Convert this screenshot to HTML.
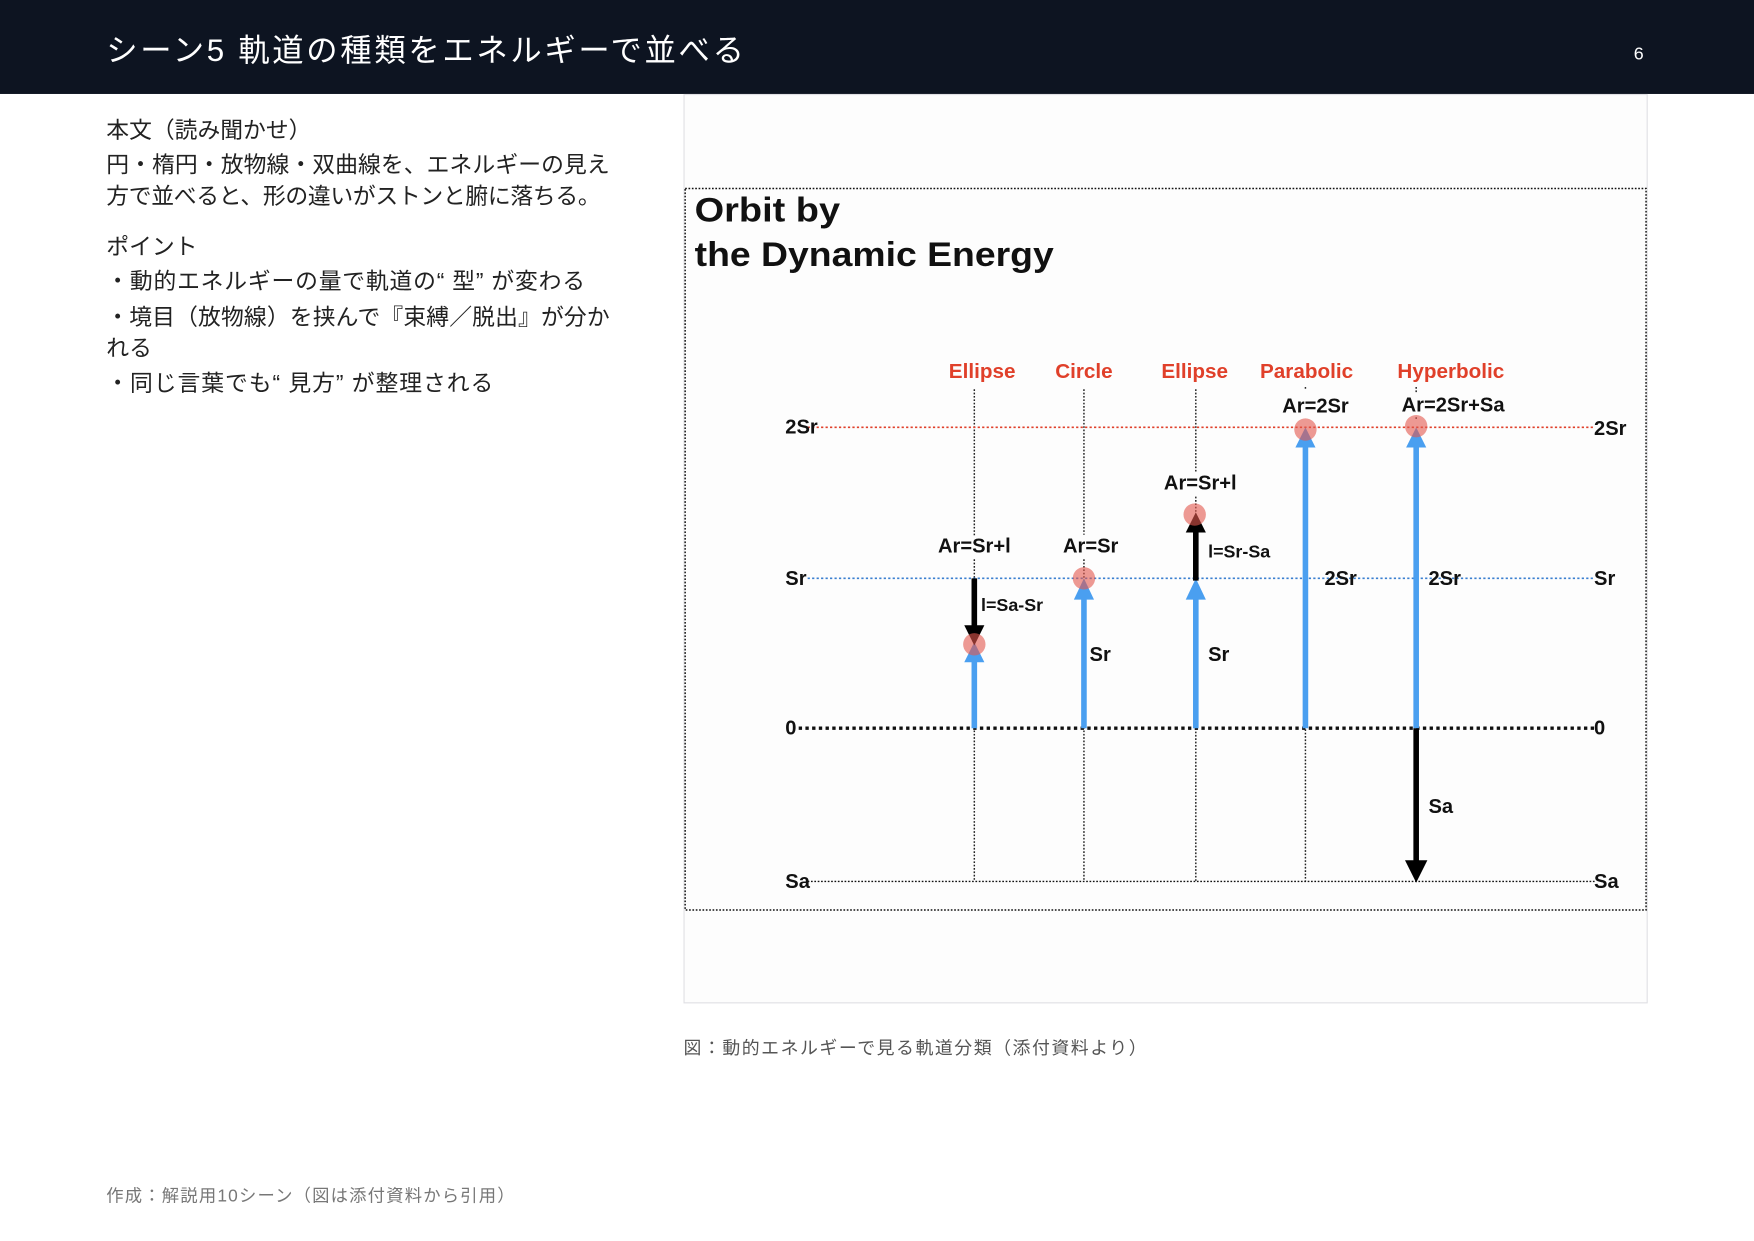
<!DOCTYPE html>
<html><head><meta charset="utf-8"><style>
html,body{margin:0;padding:0;background:#fff;}
svg{display:block;}
.jp{font-family:"Liberation Sans","Noto Sans CJK JP",sans-serif;}
.d{font-family:"Liberation Sans","DejaVu Sans",sans-serif;}
</style></head><body>
<svg width="1754" height="1241" viewBox="0 0 1568 1109.4" xmlns="http://www.w3.org/2000/svg">
<rect x="0" y="0" width="1568" height="1109.4" fill="#fff"/>
<rect x="0" y="0" width="1568" height="84" fill="#0d1421"/>
<text class="jp" x="95" y="47" font-size="28" fill="#fff" dominant-baseline="middle" textLength="570" lengthAdjust="spacing">シーン5  軌道の種類をエネルギーで並べる</text>
<text class="jp" x="1465" y="49" font-size="16" fill="#fff" text-anchor="middle" dominant-baseline="middle">6</text>

<g class="jp" font-size="20.4" fill="#222" dominant-baseline="middle">
<text x="95" y="118">本文（読み聞かせ）</text>
<text x="95" y="149" textLength="450" lengthAdjust="spacing">円・楕円・放物線・双曲線を、エネルギーの見え</text>
<text x="95" y="177" textLength="442" lengthAdjust="spacing">方で並べると、形の違いがストンと腑に落ちる。</text>
<text x="95" y="222">ポイント</text>
<text x="95" y="253" textLength="428" lengthAdjust="spacing">・動的エネルギーの量で軌道の“ 型” が変わる</text>
<text x="95" y="285" textLength="450" lengthAdjust="spacing">・境目（放物線）を挟んで『束縛／脱出』が分か</text>
<text x="95" y="313">れる</text>
<text x="95" y="344" textLength="346" lengthAdjust="spacing">・同じ言葉でも“ 見方” が整理される</text>
</g>
<text class="jp" x="611" y="938" font-size="16" fill="#555" dominant-baseline="middle" textLength="414" lengthAdjust="spacing">図：動的エネルギーで見る軌道分類（添付資料より）</text>
<text class="jp" x="95" y="1070" font-size="15.5" fill="#777" dominant-baseline="middle" textLength="365" lengthAdjust="spacing">作成：解説用10シーン（図は添付資料から引用）</text>

<rect x="611.5" y="84.5" width="861" height="812" fill="#fdfdfd" stroke="#e0e0e4" stroke-width="1"/>
<rect x="612.5" y="168.5" width="859" height="645" fill="#fdfdfd" stroke="#111" stroke-width="1.3" stroke-dasharray="1.5,1.5"/>
<text class="d" x="621" y="198" font-size="31" font-weight="bold" fill="#111" textLength="130" lengthAdjust="spacingAndGlyphs">Orbit by</text>
<text class="d" x="621" y="238" font-size="31" font-weight="bold" fill="#111" textLength="321" lengthAdjust="spacingAndGlyphs">the Dynamic Energy</text>

<g class="d" font-size="18.5" font-weight="bold" fill="#e0402a" text-anchor="middle" dominant-baseline="middle">
<text x="878" y="333">Ellipse</text><text x="969" y="333">Circle</text><text x="1068" y="333">Ellipse</text><text x="1168" y="333">Parabolic</text><text x="1297" y="333">Hyperbolic</text>
</g>

<g stroke="#222" stroke-width="1.3" stroke-dasharray="1.5,1.5">
<line x1="871" y1="348" x2="871" y2="480"/><line x1="871" y1="500" x2="871" y2="788"/>
<line x1="969" y1="348" x2="969" y2="478"/><line x1="969" y1="500" x2="969" y2="788"/>
<line x1="1069" y1="348" x2="1069" y2="422"/><line x1="1069" y1="444" x2="1069" y2="788"/>
<line x1="1167" y1="652" x2="1167" y2="788"/><line x1="1167" y1="346" x2="1167" y2="349"/>
<line x1="1266" y1="346" x2="1266" y2="351"/><line x1="1266" y1="373" x2="1266" y2="376"/>
</g>
<line x1="722" y1="382" x2="1426" y2="382" stroke="#e0402a" stroke-width="1.5" stroke-dasharray="2,2"/>
<line x1="722" y1="517" x2="1426" y2="517" stroke="#3a7fd0" stroke-width="1.5" stroke-dasharray="2,2"/>
<line x1="714" y1="651" x2="1426" y2="651" stroke="#111" stroke-width="3" stroke-dasharray="3,3"/>
<line x1="722" y1="788" x2="1426" y2="788" stroke="#111" stroke-width="1.2" stroke-dasharray="1.5,1.5"/>

<g class="d" font-size="18" font-weight="bold" fill="#111" dominant-baseline="middle">
<text x="702" y="383">2Sr</text><text x="702" y="518">Sr</text><text x="702" y="652">0</text><text x="702" y="789">Sa</text>
<text x="1425" y="384">2Sr</text><text x="1425" y="518">Sr</text><text x="1425" y="652">0</text><text x="1425" y="789">Sa</text>
</g>

<g stroke="#4a9ff0" stroke-width="5">
<line x1="871" y1="651" x2="871" y2="590"/>
<line x1="969" y1="651" x2="969" y2="530"/>
<line x1="1069" y1="651" x2="1069" y2="530"/>
<line x1="1167" y1="651" x2="1167" y2="395"/>
<line x1="1266" y1="651" x2="1266" y2="395"/>
</g>
<g fill="#4a9ff0">
<polygon points="862,592 880,592 871,574"/>
<polygon points="960,536 978,536 969,517"/>
<polygon points="1060,536 1078,536 1069,517"/>
<polygon points="1158,400 1176,400 1167,382"/>
<polygon points="1257,400 1275,400 1266,382"/>
</g>
<g stroke="#000" stroke-width="5">
<line x1="871" y1="517" x2="871" y2="560"/>
<line x1="1069" y1="519" x2="1069" y2="474"/>
<line x1="1266" y1="651" x2="1266" y2="772"/>
</g>
<g fill="#000">
<polygon points="862,559 880,559 871,577"/>
<polygon points="1060,476 1078,476 1069,458"/>
<polygon points="1256,769 1276,769 1266,789"/>
</g>
<g fill="#e2574c" fill-opacity="0.6">
<circle cx="871" cy="576" r="10"/><circle cx="969" cy="517" r="10"/><circle cx="1068" cy="460" r="10"/><circle cx="1167" cy="384" r="10"/><circle cx="1266" cy="381" r="10"/>
</g>

<g class="d" font-size="18" font-weight="bold" fill="#111" dominant-baseline="middle">
<text x="871" y="489" text-anchor="middle">Ar=Sr+l</text>
<text x="975" y="489" text-anchor="middle">Ar=Sr</text>
<text x="1073" y="433" text-anchor="middle">Ar=Sr+l</text>
<text x="1176" y="364" text-anchor="middle">Ar=2Sr</text>
<text x="1299" y="363" text-anchor="middle">Ar=2Sr+Sa</text>
<text x="877" y="542" font-size="16">l=Sa-Sr</text>
<text x="1080" y="494" font-size="16">l=Sr-Sa</text>
<text x="974" y="586">Sr</text>
<text x="1080" y="586">Sr</text>
<text x="1184" y="518">2Sr</text>
<text x="1277" y="518">2Sr</text>
<text x="1277" y="722">Sa</text>
</g>
</svg>
</body></html>
